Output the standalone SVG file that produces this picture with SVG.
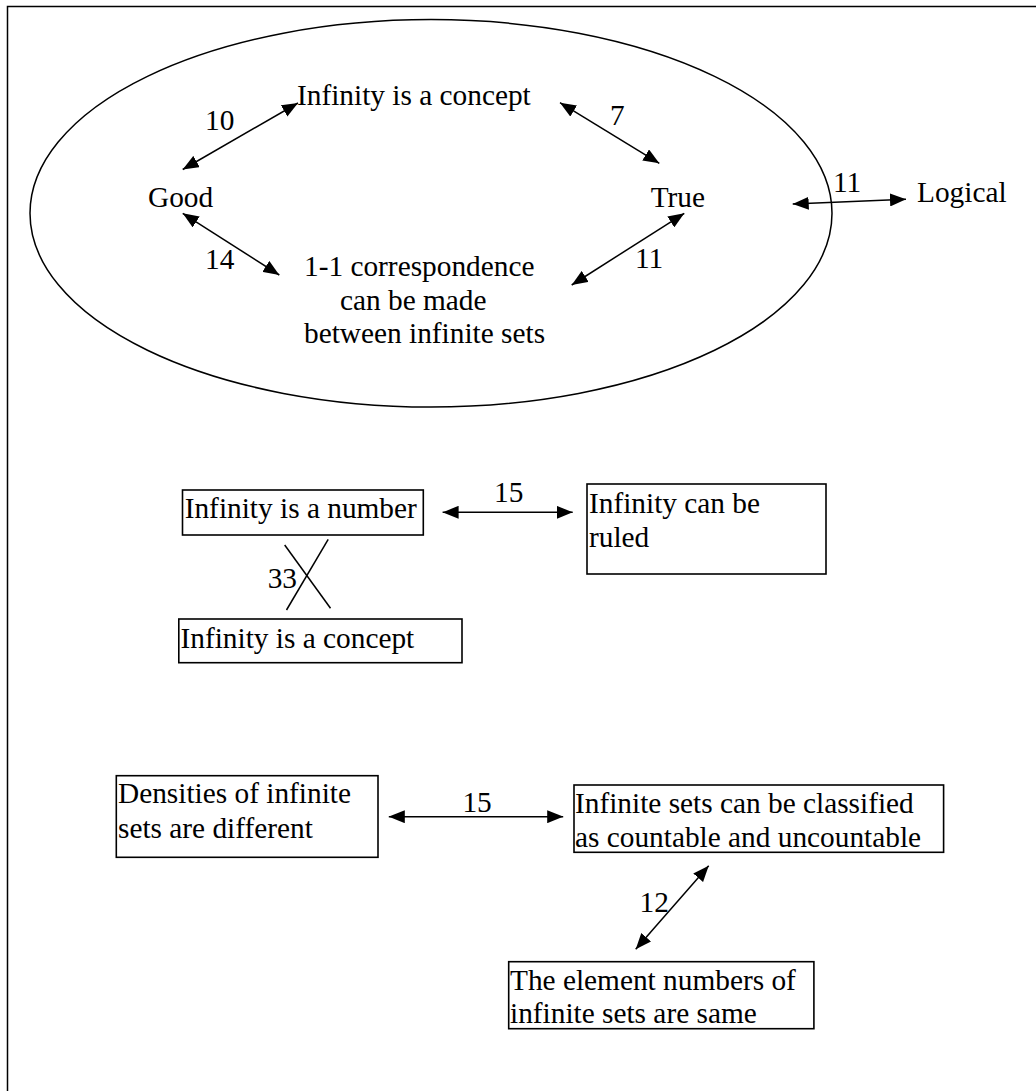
<svg xmlns="http://www.w3.org/2000/svg" width="1036" height="1091" viewBox="0 0 1036 1091" font-family="'Liberation Serif', 'Times New Roman', Times, serif">
<style>
text{font-family:"Liberation Serif","Times New Roman",Times,serif;font-size:29.33px;fill:#000}
.box{fill:#fff;stroke:#000;stroke-width:1.6}
.ln{fill:none;stroke:#000;stroke-width:1.5}
.arr{fill:none;stroke:#000;stroke-width:1.5;marker-start:url(#ah);marker-end:url(#ah)}
</style>
<defs>
<marker id="ah" viewBox="0 0 16 13" refX="16" refY="6.5" markerWidth="16" markerHeight="13" markerUnits="userSpaceOnUse" orient="auto-start-reverse">
<path d="M0,0 L16,6.5 L0,13 z" fill="#000"/>
</marker>
</defs>
<rect width="1036" height="1091" fill="#fff"/>
<path class="ln" d="M7.5 1100 V6.5 H1040"/>
<ellipse id="set" cx="431" cy="213.3" rx="401" ry="193.7" class="ln"/>

<g id="connectors">
<line class="arr" x1="182.7" y1="169.5" x2="298" y2="103"/>
<line class="arr" x1="182.7" y1="213.3" x2="279.3" y2="275"/>
<line class="arr" x1="560" y1="102.7" x2="659.3" y2="163.3"/>
<line class="arr" x1="684.3" y1="213.3" x2="571.7" y2="285"/>
<line class="arr" x1="792.7" y1="204" x2="906" y2="199.3"/>
<line class="arr" x1="442.6" y1="512.3" x2="572.7" y2="512.3"/>
<line class="ln" x1="284.7" y1="545" x2="330.5" y2="608.3"/>
<line class="ln" x1="328.2" y1="539.3" x2="286.5" y2="610"/>
<line class="arr" x1="388.8" y1="816.7" x2="563.2" y2="816.7"/>
<line class="arr" x1="708.7" y1="865.7" x2="635.7" y2="949.3"/>
<text x="205" y="130">10</text>
<text x="205" y="269">14</text>
<text x="610" y="125">7</text>
<text x="635" y="268">11</text>
<text x="833" y="192">11</text>
<text x="494" y="502.3">15</text>
<text x="267.7" y="588.3">33</text>
<text x="462.4" y="811.7">15</text>
<text x="639.5" y="911.7">12</text>
</g>

<g id="n-concept-top"><text x="297" y="105">Infinity is a concept</text></g>
<g id="n-good"><text x="148" y="207">Good</text></g>
<g id="n-true"><text x="650.7" y="207">True</text></g>
<g id="n-logical"><text x="917" y="202">Logical</text></g>
<g id="n-correspondence">
<text x="304" y="276">1-1 correspondence</text>
<text x="340" y="309.5">can be made</text>
<text x="304" y="343">between infinite sets</text>
</g>

<g id="n-number">
<rect class="box" x="182.5" y="490" width="240.8" height="45"/>
<text x="184.7" y="518.3">Infinity is a number</text>
</g>
<g id="n-ruled">
<rect class="box" x="587" y="484" width="239" height="90"/>
<text x="589" y="513">Infinity can be</text>
<text x="589" y="547">ruled</text>
</g>
<g id="n-concept">
<rect class="box" x="178.8" y="619" width="283.2" height="43.7"/>
<text x="180.5" y="648.3">Infinity is a concept</text>
</g>

<g id="n-densities">
<rect class="box" x="116.3" y="775.7" width="261.7" height="81.6"/>
<text x="118" y="803.3">Densities of infinite</text>
<text x="118" y="837.7">sets are different</text>
</g>
<g id="n-classified">
<rect class="box" x="574" y="785" width="369.6" height="67.3"/>
<text x="575" y="813.3">Infinite sets can be classified</text>
<text x="575" y="847.3">as countable and uncountable</text>
</g>
<g id="n-same">
<rect class="box" x="508.7" y="961.7" width="305.2" height="67"/>
<text x="510" y="990">The element numbers of</text>
<text x="510" y="1022.7">infinite sets are same</text>
</g>
</svg>
